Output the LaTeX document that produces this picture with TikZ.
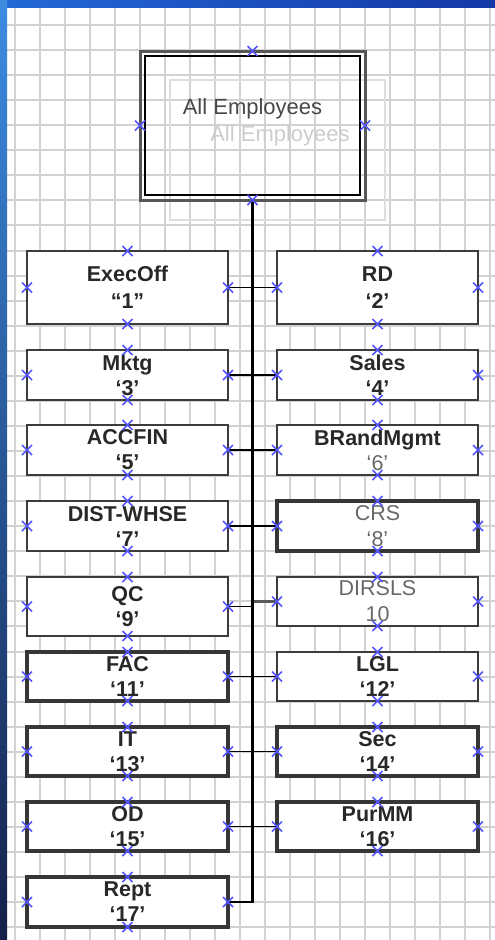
\documentclass[tikz,border=0pt]{standalone}
\usepackage{fontspec}
\setmainfont{Liberation Sans}
\usetikzlibrary{calc}
\definecolor{gridc}{RGB}{210,210,210}
\definecolor{xblue}{RGB}{85,85,255}
\definecolor{txt}{RGB}{40,40,40}
\definecolor{graytxt}{RGB}{105,105,105}
\definecolor{ghost}{RGB}{222,222,222}
\definecolor{ghosttxt}{RGB}{205,205,205}
\definecolor{bord}{RGB}{60,60,60}
\definecolor{topblue}{RGB}{35,105,215}
\definecolor{darkblue}{RGB}{20,55,165}
\definecolor{navy}{RGB}{20,32,72}
\definecolor{lightblue}{RGB}{60,140,225}
\tikzset{
  gridline/.style={draw=gridc, line width=2pt},
  dept/.style={draw=bord, fill=white, line width=2pt, inner sep=0pt, outer sep=0pt,
    minimum width=201pt, minimum height=50pt, align=center, text=txt,
    font=\fontsize{21.5}{25}\selectfont\bfseries},
  heavy/.style={line width=3.6pt, draw=bord!90!black},
  medium/.style={line width=2.6pt},
  faint/.style={text=graytxt, font=\fontsize{21.5}{26}\selectfont},
  conn/.style={draw=black, line width=1.5pt},
  spine/.style={draw=black, line width=3pt},
  xmk/.style={draw=xblue, line width=1.5pt},
}
\newcommand\xmark[1]{\draw[xmk] (#1) +(-5,-5) -- +(5,5) +(-5,5) -- +(5,-5);}
\newcommand\allx[1]{\xmark{#1.north}\xmark{#1.south}\xmark{#1.east}\xmark{#1.west}}
\begin{document}
\begin{tikzpicture}[x=1pt,y=-1pt]
\useasboundingbox (0,0) rectangle (495,940);
\fill[white] (0,0) rectangle (495,940);
% grid
\foreach \i in {0,...,19} \draw[gridline] (15+25*\i,7) -- (15+25*\i,940);
\foreach \j in {0,...,36} \draw[gridline] (7,25+25.06*\j) -- (495,25+25.06*\j);
% window edges
\shade[left color=topblue, right color=darkblue] (0,0) rectangle (495,7);
\shade[top color=lightblue, bottom color=navy] (0,0) rectangle (7,940);
% ghost box
\draw[ghost, line width=2pt] (170,80) rectangle (385,220);
\node[text=ghosttxt, font=\fontsize{22}{26}\selectfont] (ghostlbl) at (280,136) {All Employees};
% main box
\node[draw=black!66, line width=3pt, minimum width=225pt, minimum height=149pt, inner sep=0pt, outer sep=0pt,
  text=txt!85!white, font=\fontsize{22}{26}\selectfont, text depth=38pt] (AE) at (252.5,125.5) {All Employees};
\draw[black, line width=1.3pt] ($(AE.north west)+(5,5)$) rectangle ($(AE.south east)+(-5,-5)$);
% departments
\node[dept, minimum height=73pt, font=\fontsize{21.5}{27}\selectfont\bfseries] (b1) at (127.5,287.5) {ExecOff\\“1”};
\node[dept, minimum height=73pt, font=\fontsize{21.5}{27}\selectfont\bfseries] (b2) at (377.5,287.5) {RD\\‘2’};
\node[dept] (b3) at (127.5,375) {Mktg\\‘3’};
\node[dept] (b4) at (377.5,375) {Sales\\‘4’};
\node[dept] (b5) at (127.5,450) {ACCFIN\\‘5’};
\node[dept] (b6) at (377.5,450) {BRandMgmt\\{\mdseries\color{graytxt}‘6’}};
\node[dept] (b7) at (127.5,526) {DIST-WHSE\\‘7’};
\node[dept, heavy, faint] (b8) at (377.5,526) {CRS\\‘8’};
\node[dept, minimum height=59pt] (b9) at (127.5,606.5) {QC\\‘9’};
\node[dept, faint, minimum height=49pt] (b10) at (377.5,601.5) {DIRSLS\\10};
\node[dept, heavy, minimum height=49pt] (b11) at (127.5,676.5) {FAC\\‘11’};
\node[dept, medium, minimum height=49pt] (b12) at (377.5,676.5) {LGL\\‘12’};
\node[dept, heavy, minimum height=49pt] (b13) at (127.5,751.5) {IT\\‘13’};
\node[dept, heavy, minimum height=49pt] (b14) at (377.5,751.5) {Sec\\‘14’};
\node[dept, heavy, minimum height=49pt] (b15) at (127.5,826.5) {OD\\‘15’};
\node[dept, heavy, minimum height=49pt] (b16) at (377.5,826.5) {PurMM\\‘16’};
\node[dept, heavy] (b17) at (127.5,902) {Rept\\‘17’};
% connectors
\draw[conn] (b1.east) -- (b2.west);
\draw[conn] (b3.east) -- (b4.west);
\draw[conn] (b5.east) -- (b6.west);
\draw[conn] (b7.east) -- (b8.west);
\draw[conn] (b9.east) -- (b9.east -| AE.south);
\draw[conn, draw=black!65, line width=3pt] (b10.west -| AE.south) -- (b10.west);
\draw[conn] (b11.east) -- (b12.west);
\draw[conn] (b13.east) -- (b14.west);
\draw[conn] (b15.east) -- (b16.west);
\draw[conn] (b17.east) -- (b17.east -| AE.south);
\draw[spine] (AE.south) -- ($(b17.east -| AE.south)+(0,0.75)$);
% connection markers
\allx{AE}
\foreach \n in {b1,b2,b3,b4,b5,b6,b7,b8,b9,b10,b11,b12,b13,b14,b15,b16,b17} {\allx{\n}}
\end{tikzpicture}
\end{document}
